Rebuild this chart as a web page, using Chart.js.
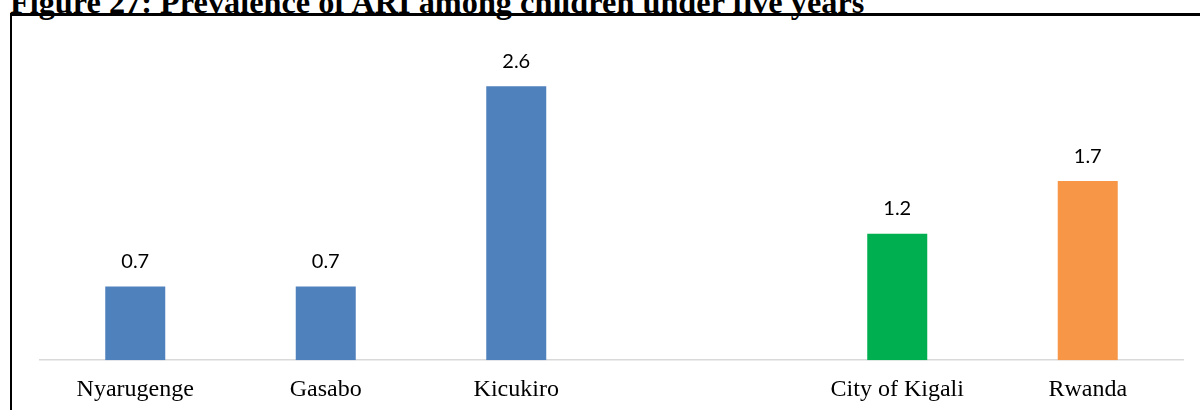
<!DOCTYPE html>
<html>
<head>
<meta charset="utf-8">
<script src="https://cdn.jsdelivr.net/npm/chart.js@4"></script>
<style>
    html, body { margin: 0; padding: 0; background: #fff; overflow: hidden; }
    #wrap { position: relative; width: 1200px; height: 410px; overflow: hidden; }
    #title {
        position: absolute; left: 10px; top: -14px; margin: 0;
        font: bold 32.3px "Liberation Serif", "Times New Roman", serif;
        line-height: 32px; white-space: nowrap; color: #000;
    }
    #frame {
        position: absolute; left: 10px; top: 13px; width: 1200px; height: 420px;
        border-top: 3px solid #000; border-left: 2.7px solid #000;
        background: transparent;
    }
    #chart { position: absolute; left: 0; top: 0; }
</style>
</head>
<body>
<div id="wrap">
    <div id="title">Figure 27: Prevalence of ARI among children under five years</div>
    <div id="frame"></div>
    <canvas id="chart" width="1200" height="426"></canvas>
</div>
<script>
const categories = ['Nyarugenge', 'Gasabo', 'Kicukiro', '', 'City of Kigali', 'Rwanda'];
const prevalence = [0.7, 0.7, 2.6, null, 1.2, 1.7];
const barColors = ['#4F81BD', '#4F81BD', '#4F81BD', '#4F81BD', '#00B050', '#F79646'];

// draws the value above each bar
const valueLabels = {
    id: 'valueLabels',
    afterDatasetsDraw(chart) {
        const ctx = chart.ctx;
        const meta = chart.getDatasetMeta(0);
        ctx.save();
        ctx.font = '20px Lato, "Open Sans", sans-serif';
        ctx.fillStyle = '#000';
        ctx.textAlign = 'center';
        ctx.textBaseline = 'alphabetic';
        meta.data.forEach((bar, i) => {
            const v = prevalence[i];
            if (v === null) return;
            ctx.fillText(v.toFixed(1), bar.x, bar.y - 18.5);
        });
        ctx.restore();
    }
};

document.addEventListener('DOMContentLoaded', () => {
    const ctx = document.getElementById('chart').getContext('2d');
    new Chart(ctx, {
        type: 'bar',
        data: {
            labels: categories,
            datasets: [{
                data: prevalence,
                backgroundColor: barColors,
                borderWidth: 0,
                categoryPercentage: 1,
                barPercentage: 0.315
            }]
        },
        options: {
            responsive: false,
            animation: false,
            layout: { padding: { left: 40, right: 17, top: 44, bottom: 7 } },
            scales: {
                y: { display: false, min: 0, max: 3 },
                x: {
                    grid: { display: false, drawTicks: false },
                    border: { display: true, color: '#D9D9D9', width: 1.5 },
                    ticks: {
                        color: '#000',
                        padding: 15,
                        maxRotation: 0,
                        autoSkip: false,
                        font: { family: '"Liberation Serif", "Times New Roman", serif', size: 24 }
                    }
                }
            },
            plugins: {
                legend: { display: false },
                tooltip: { enabled: false }
            }
        },
        plugins: [valueLabels]
    });
});
</script>
</body>
</html>
